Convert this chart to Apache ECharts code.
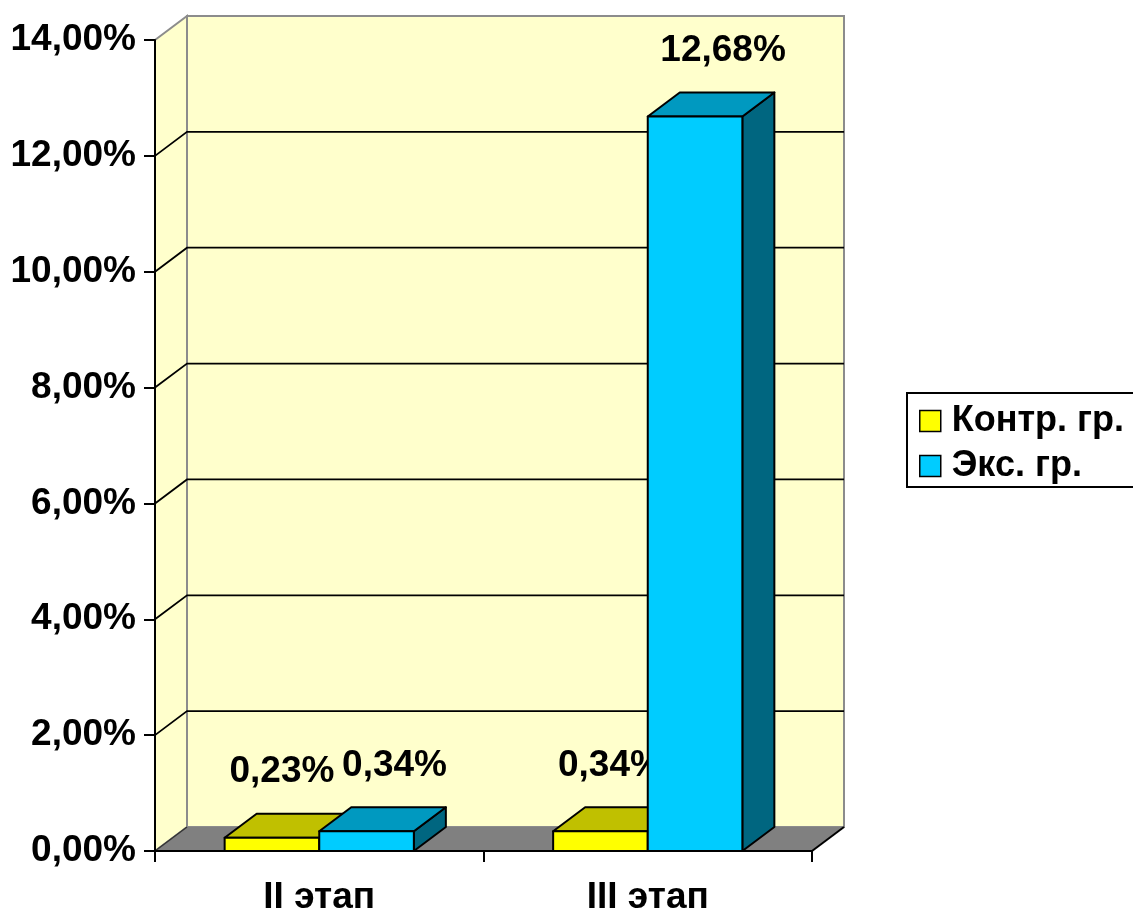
<!DOCTYPE html>
<html>
<head>
<meta charset="utf-8">
<script src="https://cdn.jsdelivr.net/npm/echarts@6/dist/echarts.min.js"></script>
<style>
  html, body { margin: 0; padding: 0; background: #fff; }
  #chart { width: 1133px; height: 909px; }
</style>
</head>
<body>
<div id="chart"></div>
<script>
// данные
var categories = ['II этап', 'III этап'];
var seriesNames = ['Контр. гр.', 'Экс. гр.'];
var controlValues = [0.0023, 0.0034];
var expValues = [0.0034, 0.1268];
var yTicks = [0, 0.02, 0.04, 0.06, 0.08, 0.10, 0.12, 0.14];

var DX = 32, DY = -24;          // глубина 3D
var BAR_RATIO = 0.288;          // ширина столбика от ширины категории
var FONT = '"Liberation Sans", Arial, sans-serif';

function pct(v) {
  return (v * 100).toFixed(2).replace('.', ',') + '%';
}

// стены, пол и линии сетки
function renderBackdrop(params, api) {
  var cs = params.coordSys;
  var x0 = cs.x, x1 = cs.x + cs.width;
  var yTop = cs.y, yBot = cs.y + cs.height;
  var children = [];
  // задняя стена
  children.push({
    type: 'rect',
    shape: { x: x0 + DX, y: yTop + DY, width: cs.width, height: cs.height },
    style: { fill: '#FFFFCC', stroke: '#8c8c8c', lineWidth: 2 }
  });
  // левая стена
  children.push({
    type: 'polygon',
    shape: { points: [[x0, yTop], [x0 + DX, yTop + DY], [x0 + DX, yBot + DY], [x0, yBot]] },
    style: { fill: '#FFFFCC', stroke: '#8c8c8c', lineWidth: 2 }
  });
  // сетка
  yTicks.forEach(function (t) {
    if (t === 0 || t === yTicks[yTicks.length - 1]) return;
    var y = api.coord([0, t])[1];
    children.push({
      type: 'polyline',
      shape: { points: [[x0, y], [x0 + DX, y + DY], [x1 + DX, y + DY]] },
      style: { stroke: '#000', lineWidth: 1.8, fill: null }
    });
  });
  // пол
  children.push({
    type: 'polygon',
    shape: { points: [[x0, yBot], [x0 + DX, yBot + DY], [x1 + DX, yBot + DY], [x1, yBot]] },
    style: { fill: '#808080', stroke: null }
  });
  children.push({
    type: 'polyline',
    shape: { points: [[x0, yBot], [x0 + DX, yBot + DY]] },
    style: { stroke: '#333', lineWidth: 1.5, fill: null }
  });
  children.push({
    type: 'polyline',
    shape: { points: [[x1, yBot], [x1 + DX, yBot + DY]] },
    style: { stroke: '#000', lineWidth: 2, fill: null }
  });
  return { type: 'group', children: children };
}

function makeBarRenderer(side, colors, labelShift) {
  return function (params, api) {
    var cat = api.value(0);
    var val = api.value(1);
    var c = api.coord([cat, val]);
    var base = api.coord([cat, 0]);
    var bw = api.size([1, 0])[0] * BAR_RATIO;
    var xa = side < 0 ? c[0] - bw : c[0];
    var xb = xa + bw;
    var yt = c[1], y0 = base[1];
    var st = { stroke: '#000', lineWidth: 2, lineJoin: 'round' };
    return {
      type: 'group',
      children: [
        {
          type: 'polygon',
          shape: { points: [[xb, yt], [xb + DX, yt + DY], [xb + DX, y0 + DY], [xb, y0]] },
          style: Object.assign({ fill: colors[2] }, st)
        },
        {
          type: 'polygon',
          shape: { points: [[xa, yt], [xa + DX, yt + DY], [xb + DX, yt + DY], [xb, yt]] },
          style: Object.assign({ fill: colors[1] }, st)
        },
        {
          type: 'rect',
          shape: { x: xa, y: yt, width: bw, height: y0 - yt },
          style: Object.assign({ fill: colors[0] }, st)
        },
        {
          type: 'text',
          x: (xa + xb) / 2 + labelShift,
          y: yt - 66,
          style: {
            text: pct(val),
            font: 'bold 37px ' + FONT,
            fill: '#000',
            align: 'center',
            verticalAlign: 'middle'
          }
        }
      ]
    };
  };
}

var chart = echarts.init(document.getElementById('chart'));
chart.setOption({
  animation: false,
  backgroundColor: '#fff',
  textStyle: { fontFamily: FONT },
  grid: { left: 155, top: 40, right: 321, bottom: 58, outerBoundsMode: 'none', containLabel: false },
  legend: {
    orient: 'vertical',
    left: 907,
    top: 393,
    data: seriesNames,
    icon: 'rect',
    itemWidth: 21,
    itemHeight: 21,
    itemGap: 5,
    padding: [8, 40, 1, 12],
    borderColor: '#000',
    borderWidth: 2,
    itemStyle: { borderColor: '#000', borderWidth: 1.5 },
    textStyle: { fontSize: 36, lineHeight: 40, fontWeight: 'bold', color: '#000', fontFamily: FONT, padding: [0, 0, 0, 6] }
  },
  xAxis: {
    type: 'category',
    data: categories,
    boundaryGap: true,
    axisLine: { lineStyle: { color: '#000', width: 2 } },
    axisTick: { show: true, length: 11, lineStyle: { color: '#000', width: 2 } },
    axisLabel: { color: '#000', fontSize: 37, fontWeight: 'bold', margin: 28, fontFamily: FONT },
    splitLine: { show: false },
    z: 5
  },
  yAxis: {
    type: 'value',
    min: yTicks[0],
    max: yTicks[yTicks.length - 1],
    interval: 0.02,
    axisLine: { show: true, lineStyle: { color: '#000', width: 2 } },
    axisTick: { show: true, length: 11, lineStyle: { color: '#000', width: 2 } },
    axisLabel: { color: '#000', fontSize: 37, fontWeight: 'bold', margin: 19, fontFamily: FONT, formatter: pct },
    splitLine: { show: false },
    z: 5
  },
  series: [
    {
      type: 'custom',
      name: 'backdrop',
      z: 0,
      clip: false,
      silent: true,
      renderItem: renderBackdrop,
      data: [[0, 0]]
    },
    {
      type: 'custom',
      name: seriesNames[0],
      z: 6,
      clip: false,
      itemStyle: { color: '#FFFF00' },
      renderItem: makeBarRenderer(-1, ['#FFFF00', '#C0C000', '#808000'], 10),
      data: categories.map(function (c, i) { return [i, controlValues[i]]; })
    },
    {
      type: 'custom',
      name: seriesNames[1],
      z: 7,
      clip: false,
      itemStyle: { color: '#00CCFF' },
      renderItem: makeBarRenderer(1, ['#00CCFF', '#0099C0', '#006680'], 28),
      data: categories.map(function (c, i) { return [i, expValues[i]]; })
    }
  ]
});
window.onresize = chart.resize;
</script>
</body>
</html>
